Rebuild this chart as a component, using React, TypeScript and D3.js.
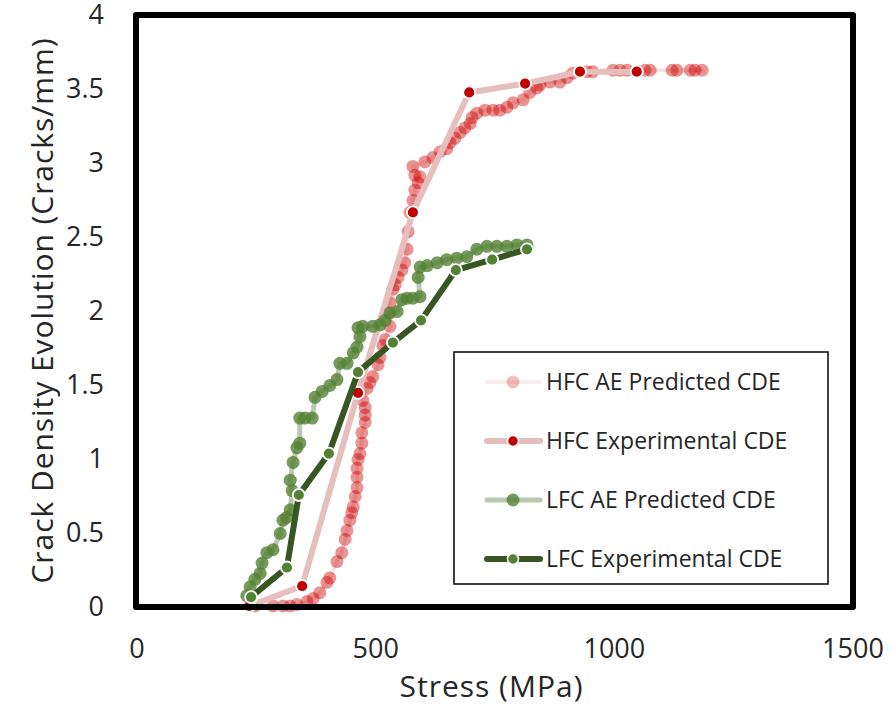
import React from "react";
import * as d3 from "d3";

// Stress (MPa) vs crack density (cracks/mm)
const hfcAeStress = [247, 285, 306, 321, 335, 356, 369, 383, 398, 404, 419, 429, 436, 440, 446, 450, 453, 457, 461, 461, 461, 463, 467, 471, 471, 478, 478, 478, 473, 482, 488, 494, 505, 509, 515, 520, 530, 526, 530, 536, 541, 547, 555, 561, 566, 568, 572, 578, 582, 589, 582, 593, 578, 603, 620, 635, 649, 656, 666, 677, 687, 698, 702, 712, 729, 746, 760, 775, 788, 809, 823, 838, 844, 865, 886, 901, 913, 943, 955, 997, 1012, 1027, 1064, 1075, 1121, 1131, 1159, 1169, 1184];
const hfcAeCde = [0, 0, 0, 0, 0.01, 0.03, 0.05, 0.09, 0.16, 0.19, 0.3, 0.36, 0.45, 0.51, 0.58, 0.63, 0.67, 0.74, 0.8, 0.87, 0.93, 0.99, 1.03, 1.1, 1.17, 1.24, 1.29, 1.34, 1.39, 1.47, 1.51, 1.55, 1.63, 1.68, 1.76, 1.8, 1.89, 1.98, 2.05, 2.14, 2.17, 2.22, 2.27, 2.32, 2.41, 2.53, 2.66, 2.74, 2.81, 2.86, 2.91, 2.9, 2.97, 3.0, 3.03, 3.07, 3.09, 3.13, 3.16, 3.2, 3.23, 3.26, 3.3, 3.33, 3.35, 3.35, 3.35, 3.37, 3.4, 3.42, 3.47, 3.5, 3.52, 3.54, 3.54, 3.57, 3.6, 3.61, 3.61, 3.62, 3.62, 3.62, 3.62, 3.62, 3.62, 3.62, 3.62, 3.62, 3.62];

const hfcExpStress = [235, 346, 463, 578, 696, 813, 928, 1047];
const hfcExpCde = [0, 0.135, 1.44, 2.66, 3.47, 3.53, 3.61, 3.61];

const lfcAeStress = [230, 237, 247, 258, 262, 272, 285, 300, 306, 314, 321, 325, 321, 327, 335, 341, 341, 352, 367, 373, 388, 404, 419, 425, 440, 453, 461, 467, 463, 473, 494, 509, 520, 530, 545, 555, 566, 578, 593, 589, 593, 608, 629, 649, 670, 691, 712, 733, 754, 775, 796, 817];
const lfcAeCde = [0.07, 0.13, 0.18, 0.22, 0.29, 0.36, 0.38, 0.49, 0.58, 0.6, 0.65, 0.78, 0.85, 0.97, 1.07, 1.1, 1.27, 1.27, 1.27, 1.41, 1.45, 1.49, 1.53, 1.64, 1.64, 1.71, 1.75, 1.82, 1.88, 1.89, 1.89, 1.9, 1.93, 1.98, 1.99, 2.07, 2.08, 2.08, 2.09, 2.22, 2.29, 2.3, 2.32, 2.34, 2.35, 2.36, 2.41, 2.43, 2.43, 2.43, 2.44, 2.44];

const lfcExpStress = [239, 314, 339, 402, 463, 536, 595, 668, 744, 817];
const lfcExpCde = [0.06, 0.26, 0.75, 1.03, 1.58, 1.78, 1.93, 2.27, 2.34, 2.41];

const xTicks = [0, 500, 1000, 1500];
const yTicks = [0, 0.5, 1, 1.5, 2, 2.5, 3, 3.5, 4];

const seriesNames = [
  "HFC AE Predicted CDE",
  "HFC Experimental CDE",
  "LFC AE Predicted CDE",
  "LFC Experimental CDE",
];

type Pt = [number, number];
const zip = (a: number[], b: number[]): Pt[] => a.map((v, i) => [v, b[i]]);

const FONT = "'Open Sans', sans-serif";
const TEXT = "#262626";

export default function App() {
  const W = 894;
  const H = 707;
  const x = d3.scaleLinear().domain([0, 1500]).range([137, 853]);
  const y = d3.scaleLinear().domain([0, 4]).range([606, 14]);
  const line = d3
    .line<Pt>()
    .x((d) => x(d[0]))
    .y((d) => y(d[1]));

  const hfcAe = zip(hfcAeStress, hfcAeCde);
  const hfcExp = zip(hfcExpStress, hfcExpCde);
  const lfcAe = zip(lfcAeStress, lfcAeCde);
  const lfcExp = zip(lfcExpStress, lfcExpCde);

  const styles = [
    { line: "#e9c4c4", lineW: 4, lineOp: 0.45, dot: "#cc0000", dotOp: 0.42, r: 6.5, edge: "none" },
    { line: "#e6bebe", lineW: 6, lineOp: 1, dot: "#c00000", dotOp: 1, r: 6, edge: "#ffffff" },
    { line: "#8aa47d", lineW: 5, lineOp: 0.6, dot: "#548235", dotOp: 0.8, r: 6.5, edge: "none" },
    { line: "#375623", lineW: 6, lineOp: 1, dot: "#548235", dotOp: 1, r: 6, edge: "#ffffff" },
  ];
  const data = [hfcAe, hfcExp, lfcAe, lfcExp];

  const legendX = 454;
  const legendY = 352;
  const legendW = 374;
  const legendH = 232;
  const rowYs = [382, 441, 500, 559];

  return (
    <svg
      width={W}
      height={H}
      style={{ position: "fixed", left: 0, top: 0, background: "#fff" }}
      fontFamily={FONT}
    >
      <rect x={0} y={0} width={W} height={H} fill="#ffffff" />

      {/* series */}
      {data.map((pts, i) => {
        const s = styles[i];
        return (
          <g key={seriesNames[i]}>
            <path
              d={line(pts) ?? ""}
              fill="none"
              stroke={s.line}
              strokeWidth={s.lineW}
              strokeOpacity={s.lineOp}
              strokeLinejoin="round"
              strokeLinecap="round"
            />
            {pts.map((p, j) => (
              <circle
                key={j}
                cx={x(p[0])}
                cy={y(p[1])}
                r={s.r}
                fill={s.dot}
                fillOpacity={s.dotOp}
                stroke={s.edge}
                strokeWidth={s.edge === "none" ? 0 : 1.8}
              />
            ))}
          </g>
        );
      })}

      {/* plot frame */}
      <rect
        x={x(0) - 1}
        y={y(4) + 1}
        width={x(1500) - x(0) + 1}
        height={y(0) - y(4)}
        fill="none"
        stroke="#000"
        strokeWidth={6}
        strokeLinejoin="round"
      />

      {/* y tick labels */}
      {yTicks.map((t) => (
        <text
          key={t}
          x={104}
          y={y(t) + 1}
          dy="0.35em"
          textAnchor="end"
          fontSize={27}
          fill={TEXT}
        >
          {String(t)}
        </text>
      ))}

      {/* x tick labels */}
      {xTicks.map((t) => (
        <text
          key={t}
          x={x(t)}
          y={658}
          textAnchor="middle"
          fontSize={27}
          fill={TEXT}
        >
          {String(t)}
        </text>
      ))}

      {/* axis titles */}
      <text
        x={491}
        y={697}
        textAnchor="middle"
        fontSize={30}
        textLength={183}
        lengthAdjust="spacing"
        fill={TEXT}
      >
        Stress (MPa)
      </text>
      <text
        transform={`translate(53, 311) rotate(-90)`}
        textAnchor="middle"
        fontSize={30}
        textLength={545}
        lengthAdjust="spacing"
        fill={TEXT}
      >
        Crack Density Evolution (Cracks/mm)
      </text>

      {/* legend */}
      <rect
        x={legendX}
        y={legendY}
        width={legendW}
        height={legendH}
        fill="#ffffff"
        stroke="#000"
        strokeWidth={1.5}
      />
      {seriesNames.map((name, i) => {
        const s = styles[i];
        const ry = rowYs[i];
        return (
          <g key={name}>
            <line
              x1={487}
              x2={540}
              y1={ry}
              y2={ry}
              stroke={s.line}
              strokeWidth={s.lineW}
              strokeOpacity={i === 0 ? 0.3 : s.lineOp}
              strokeLinecap="round"
            />
            <circle
              cx={513}
              cy={ry}
              r={i === 1 || i === 3 ? 5.5 : 6.5}
              fill={s.dot}
              fillOpacity={i === 0 ? 0.25 : s.dotOp}
              stroke={s.edge}
              strokeWidth={s.edge === "none" ? 0 : 1.5}
            />
            <text x={546} y={ry} dy="0.35em" fontSize={23} fill={TEXT}>
              {name}
            </text>
          </g>
        );
      })}
    </svg>
  );
}
